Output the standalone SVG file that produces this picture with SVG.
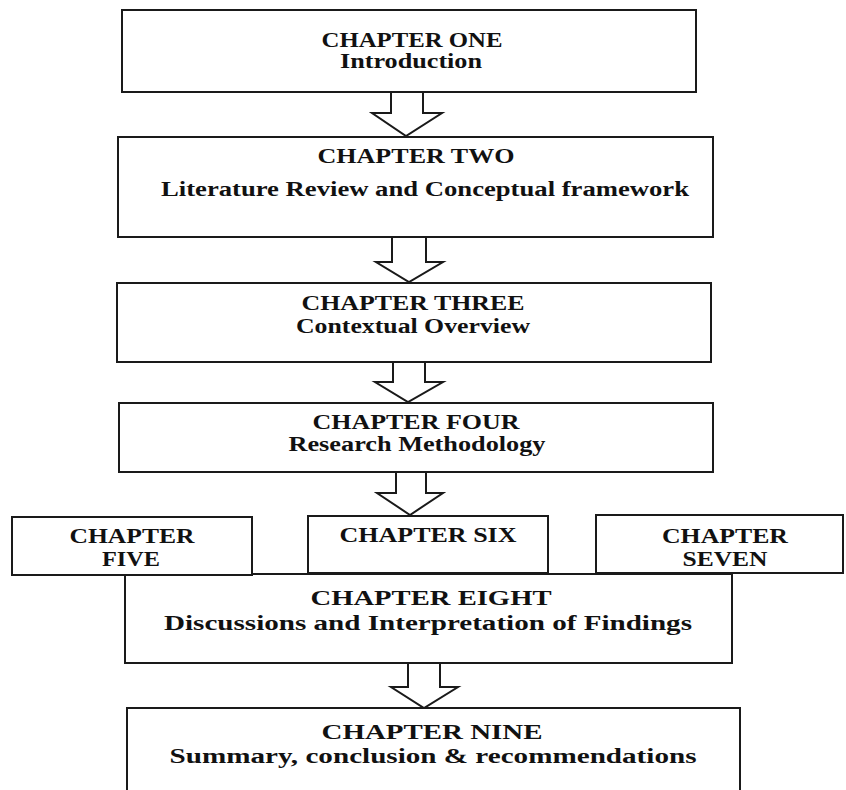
<svg xmlns="http://www.w3.org/2000/svg" width="846" height="790" viewBox="0 0 846 790">
  <style>
    .box { fill: #ffffff; stroke: #1a1a1a; stroke-width: 2; }
    .arrow { fill: #ffffff; stroke: #1a1a1a; stroke-width: 2; stroke-linejoin: miter; }
    .t { font-family: "Liberation Serif", "Times New Roman", serif; font-weight: bold; font-size: 20px; fill: #111111; text-anchor: middle; }
  </style>
  <rect width="846" height="790" fill="#ffffff"/>

  <!-- connectors: hollow block arrows between chapters -->
  <g id="connectors">
    <polygon class="arrow" points="391,92 423,92 423,113 442,113 406,136 372,113 391,113"/>
    <polygon class="arrow" points="392,237 426,237 426,262 443,262 409,282 376,262 392,262"/>
    <polygon class="arrow" points="393,362 425,362 425,382 443,382 408,402 375,382 393,382"/>
    <polygon class="arrow" points="396,472 426,472 426,493 443,493 410,515 377,493 396,493"/>
    <polygon class="arrow" points="408,663 440,663 440,687 458,687 424,708 391,687 408,687"/>
  </g>

  <g id="chapter-one">
    <rect class="box" x="122" y="10" width="574" height="82"/>
    <text class="t" x="412" y="47" textLength="181" lengthAdjust="spacingAndGlyphs">CHAPTER ONE</text>
    <text class="t" x="411" y="68" textLength="142" lengthAdjust="spacingAndGlyphs">Introduction</text>
  </g>

  <g id="chapter-two">
    <rect class="box" x="118" y="137" width="595" height="100"/>
    <text class="t" x="416" y="163" textLength="197" lengthAdjust="spacingAndGlyphs">CHAPTER TWO</text>
    <text class="t" x="425" y="196" textLength="528" lengthAdjust="spacingAndGlyphs">Literature Review and Conceptual framework</text>
  </g>

  <g id="chapter-three">
    <rect class="box" x="117" y="283" width="594" height="79"/>
    <text class="t" x="413" y="310" textLength="223" lengthAdjust="spacingAndGlyphs">CHAPTER THREE</text>
    <text class="t" x="413" y="333" textLength="234" lengthAdjust="spacingAndGlyphs">Contextual Overview</text>
  </g>

  <g id="chapter-four">
    <rect class="box" x="119" y="403" width="594" height="69"/>
    <text class="t" x="416" y="429" textLength="207" lengthAdjust="spacingAndGlyphs">CHAPTER FOUR</text>
    <text class="t" x="417" y="451" textLength="257" lengthAdjust="spacingAndGlyphs">Research Methodology</text>
  </g>

  <g id="chapter-eight">
    <rect class="box" x="125" y="574" width="607" height="89"/>
    <text class="t" x="431" y="605" textLength="241" lengthAdjust="spacingAndGlyphs">CHAPTER EIGHT</text>
    <text class="t" x="428" y="630" textLength="528" lengthAdjust="spacingAndGlyphs">Discussions and Interpretation of Findings</text>
  </g>

  <g id="chapter-five">
    <rect class="box" x="12" y="517" width="240" height="58"/>
    <text class="t" x="132" y="543" textLength="125" lengthAdjust="spacingAndGlyphs">CHAPTER</text>
    <text class="t" x="131" y="566" textLength="58" lengthAdjust="spacingAndGlyphs">FIVE</text>
  </g>

  <g id="chapter-six">
    <rect class="box" x="308" y="516" width="240" height="57"/>
    <text class="t" x="428" y="542" textLength="177" lengthAdjust="spacingAndGlyphs">CHAPTER SIX</text>
  </g>

  <g id="chapter-seven">
    <rect class="box" x="596" y="515" width="247" height="58"/>
    <text class="t" x="725" y="543" textLength="126" lengthAdjust="spacingAndGlyphs">CHAPTER</text>
    <text class="t" x="725" y="566" textLength="85" lengthAdjust="spacingAndGlyphs">SEVEN</text>
  </g>

  <g id="chapter-nine">
    <rect class="box" x="127" y="708" width="613" height="100"/>
    <text class="t" x="432" y="739" textLength="221" lengthAdjust="spacingAndGlyphs">CHAPTER NINE</text>
    <text class="t" x="433" y="763" textLength="527" lengthAdjust="spacingAndGlyphs">Summary, conclusion &amp; recommendations</text>
  </g>
</svg>
